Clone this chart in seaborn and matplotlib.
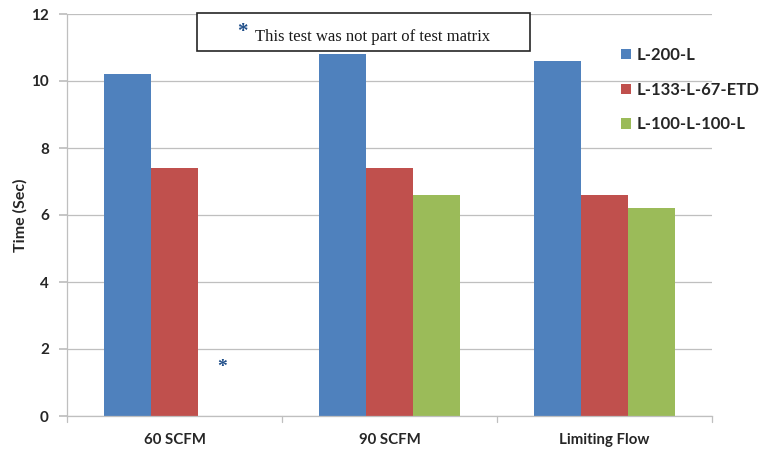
import matplotlib
matplotlib.use("Agg")
import matplotlib.pyplot as plt
import seaborn as sns
import pandas as pd
import numpy as np
from matplotlib.patches import Patch, Rectangle

categories = ["60 SCFM", "90 SCFM", "Limiting Flow"]
series = ["L-200-L", "L-133-L-67-ETD", "L-100-L-100-L"]
l200 = [10.2, 10.8, 10.6]
l133 = [7.4, 7.4, 6.6]
l100 = [np.nan, 6.6, 6.2]
colors = ["#4F81BD", "#C0504D", "#9BBB59"]
y_ticks = [0, 2, 4, 6, 8, 10, 12]

df = pd.DataFrame({
    "Condition": categories * 3,
    "Config": [series[0]] * 3 + [series[1]] * 3 + [series[2]] * 3,
    "Time": l200 + l133 + l100,
})

sns.set_theme(style="white")
plt.rcParams["font.family"] = ["Lato", "DejaVu Sans"]

W, H = 765, 451
fig = plt.figure(figsize=(W / 100, H / 100), dpi=100)
ax = fig.add_axes([67 / W, 1 - 416 / H, 645 / W, 402 / H])

sns.barplot(data=df, x="Condition", y="Time", hue="Config",
            order=categories, hue_order=series, palette=colors,
            width=0.66, saturation=1, ax=ax, legend=False, errorbar=None,
            linewidth=0)

ax.set_xlim(-0.5, 2.5)
ax.set_ylim(0, 12)
ax.set_yticks(y_ticks)
ax.set_yticklabels([str(t) for t in y_ticks], fontsize=11, fontweight="bold")
ax.yaxis.grid(True, color="#BFBFBF", linewidth=0.9)
ax.set_axisbelow(True)

ax.set_xticks([0, 1, 2])
ax.set_xticklabels(categories, fontsize=10.8, fontweight="bold")
ax.tick_params(axis="x", length=0, pad=12)
ax.tick_params(axis="y", length=6, color="#BFBFBF", direction="out", pad=7, left=True)
for b in [-0.5, 0.5, 1.5, 2.5]:
    ax.plot([b, b], [0, -0.18], color="#BFBFBF", lw=0.9, clip_on=False)

for s in ["top", "right"]:
    ax.spines[s].set_visible(False)
for s in ["left", "bottom"]:
    ax.spines[s].set_color("#BFBFBF")
    ax.spines[s].set_linewidth(0.9)

ax.set_xlabel("")
ax.set_ylabel("Time (Sec)", fontsize=11.5, fontweight="bold")
ax.yaxis.set_label_coords(-(67 - 28) / 645, 0.5)

# Marker for the configuration not tested at 60 SCFM
ax.text(0.22, 1.45, "*", color="#1F4E89", fontsize=14, fontweight="bold",
        ha="center", va="center", family=["Liberation Serif"])

# Note box
fig.add_artist(Rectangle((197 / W, 1 - 51 / H), 333 / W, 38 / H,
                         transform=fig.transFigure, facecolor="white",
                         edgecolor="#262626", linewidth=1.2, zorder=5))
fig.text(255 / W, 1 - 37 / H, "This test was not part of test matrix",
         fontsize=12, family=["Liberation Serif"], ha="left", va="center",
         color="#1a1a1a", zorder=6)
fig.text(242 / W, 1 - 32 / H, "*", color="#1F4E89", fontsize=15,
         fontweight="bold", family=["Liberation Serif"], ha="center",
         va="center", zorder=6)

handles = [Patch(facecolor=c, edgecolor="none") for c in colors]
leg = fig.legend(handles, series, loc="upper left",
                 bbox_to_anchor=(606 / W, 1 - 32 / H), frameon=False,
                 prop={"family": "Lato", "weight": "bold", "size": 12},
                 handlelength=0.6, handleheight=0.6, handletextpad=0.35,
                 labelspacing=1.12)

fig.savefig("out.png", dpi=100)
